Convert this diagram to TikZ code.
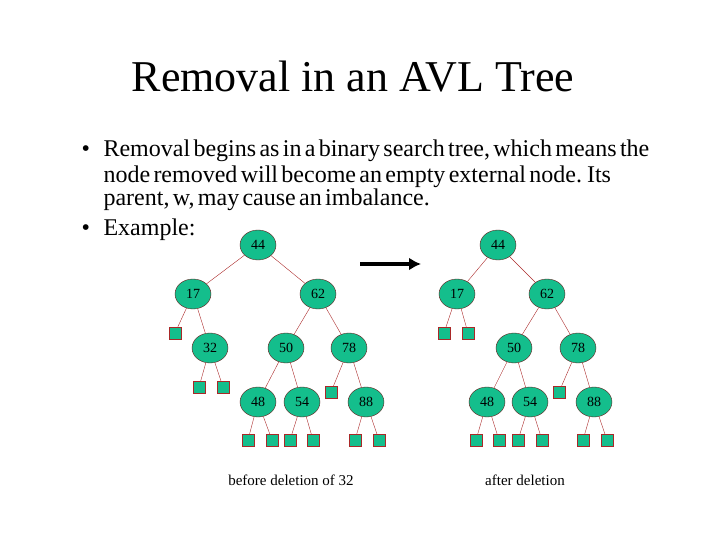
\documentclass[tikz,border=0pt]{standalone}
\usepackage{fontspec}
\setmainfont{Liberation Serif}
\usetikzlibrary{positioning}
\usetikzlibrary{shapes.geometric}
\usetikzlibrary{arrows.meta}
\definecolor{avlfill}{RGB}{20,190,140}
\definecolor{avledge}{RGB}{170,40,40}

\begin{document}
\begin{tikzpicture}
 [ x=1pt, y=-1pt
 , inner/.style={ellipse, draw=avledge!60!black, fill=avlfill, minimum width=36pt, minimum height=30pt, inner sep=0pt, font=\fontsize{14}{14}\selectfont}
 , ext/.style={rectangle, draw=avledge, fill=avlfill, minimum size=12pt, inner sep=0pt}
 , edge/.style={avledge, thin}
 ]
  \useasboundingbox (0,0) rectangle (720,540);
  \node at (353,77) {\fontsize{44}{44}\selectfont Removal in an AVL Tree};
  \node[anchor=west, align=left, text width=640pt] at (78,175)
    {\fontsize{24}{26}\selectfont
     \makebox[22pt][l]{\textbullet}Removal begins as in a binary search tree, which means the\\
     \hspace*{22pt}node removed will become an empty external node. Its\\
     \hspace*{22pt}parent, w, may cause an imbalance.};
  \node[anchor=west] at (78,230) {\fontsize{24}{26}\selectfont\makebox[22pt][l]{\textbullet}Example:};
  % before
  \node[inner] (a44) at (258,245) {44};
  \node[inner] (a17) at (193,294) {17};
  \node[inner] (a62) at (318,294) {62};
  \node[inner] (a32) at (210,348) {32};
  \node[inner] (a50) at (286,348) {50};
  \node[inner] (a78) at (349,348) {78};
  \node[inner] (a48) at (258,402) {48};
  \node[inner] (a54) at (302,402) {54};
  \node[inner] (a88) at (366,402) {88};
  \node[ext] (x1) at (175,333) {};
  \node[ext] (x2) at (199,387) {};
  \node[ext] (x3) at (223,387) {};
  \node[ext] (x4) at (331,392) {};
  \node[ext] (x5) at (248,440) {};
  \node[ext] (x6) at (272,440) {};
  \node[ext] (x7) at (290,440) {};
  \node[ext] (x8) at (313,440) {};
  \node[ext] (x9) at (355,440) {};
  \node[ext] (x10) at (379,440) {};
  \draw[edge] (a44) -- (a17) (a44) -- (a62) (a17) -- (x1) (a17) -- (a32)
    (a32) -- (x2) (a32) -- (x3) (a62) -- (a50) (a62) -- (a78)
    (a50) -- (a48) (a50) -- (a54) (a78) -- (x4) (a78) -- (a88)
    (a48) -- (x5) (a48) -- (x6) (a54) -- (x7) (a54) -- (x8)
    (a88) -- (x9) (a88) -- (x10);
  \node (cap1) at (291,480) {\fontsize{15}{15}\selectfont before deletion of 32};
  % after
  \node[inner] (b44) at (498,245) {44};
  \node[inner] (b17) at (457,294) {17};
  \node[inner] (b62) at (547,294) {62};
  \node[inner] (b50) at (514,348) {50};
  \node[inner] (b78) at (578,348) {78};
  \node[inner] (b48) at (487,402) {48};
  \node[inner] (b54) at (530,402) {54};
  \node[inner] (b88) at (594,402) {88};
  \node[ext] (y1) at (444,333) {};
  \node[ext] (y2) at (468,333) {};
  \node[ext] (y3) at (559,392) {};
  \node[ext] (y4) at (476,440) {};
  \node[ext] (y5) at (499,440) {};
  \node[ext] (y6) at (518,440) {};
  \node[ext] (y7) at (542,440) {};
  \node[ext] (y8) at (583,440) {};
  \node[ext] (y9) at (607,440) {};
  \draw[edge] (b44) -- (b17) (b44) -- (b62) (b17) -- (y1) (b17) -- (y2)
    (b62) -- (b50) (b62) -- (b78) (b50) -- (b48) (b50) -- (b54)
    (b78) -- (y3) (b78) -- (b88) (b48) -- (y4) (b48) -- (y5)
    (b54) -- (y6) (b54) -- (y7) (b88) -- (y8) (b88) -- (y9);
  \node (cap2) at (525,480) {\fontsize{15}{15}\selectfont after deletion};
  % arrow
  \coordinate (arrS) at (360,264);
  \coordinate (arrE) at (421,264);
  \draw[line width=4pt, -{Latex[length=12pt,width=13pt]}] (arrS) -- (arrE);
\end{tikzpicture}
\end{document}
